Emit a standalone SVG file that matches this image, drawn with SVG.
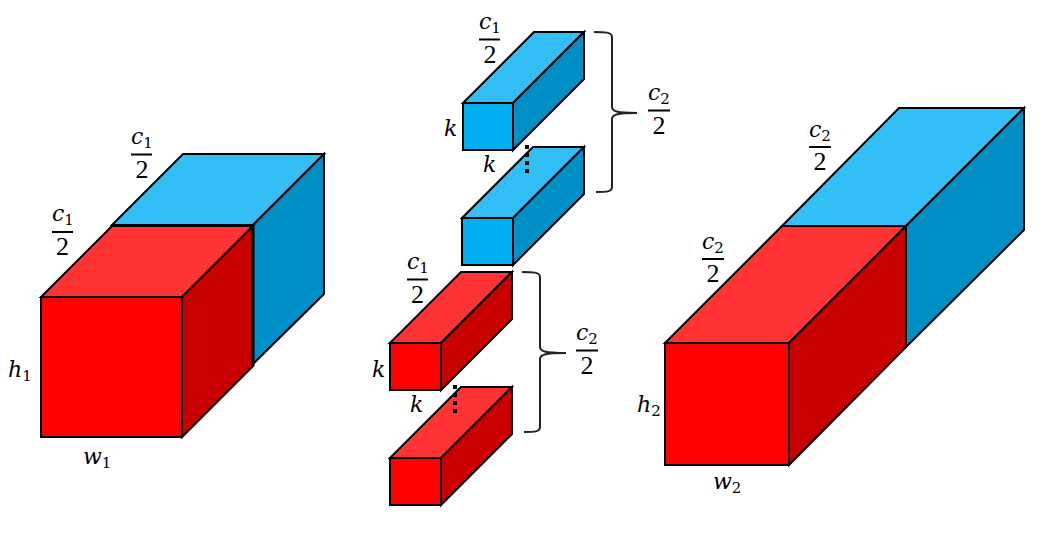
<svg xmlns="http://www.w3.org/2000/svg" width="1060" height="538" viewBox="0 0 1060 538">
<style>
.e{stroke:#000;stroke-width:2;stroke-linejoin:miter}
.rf{fill:#f00}.rt{fill:#f33}.rs{fill:#c80000}
.bf{fill:#00b0f0}.bt{fill:#33bff5}.bs{fill:#008fc4}
text{font-family:"DejaVu Serif","Liberation Serif",serif;fill:#000}
.v{font-size:22px;font-style:italic}
.s{font-size:15px;font-style:normal}
.n{font-size:26px;text-anchor:middle;font-family:"Liberation Serif",serif}
.bar{stroke:#000;stroke-width:2;fill:none}
.br{stroke:#222;stroke-width:2;fill:none}
.seam{stroke:#000;stroke-width:3;fill:none}
.d{fill:#000}
</style>
<g id="cube-left-blue">
<polygon class="e bt" points="112,225 183,154 324,154 253,225"/>
<polygon class="e bs" points="253,225 324,154 324,294 253,364"/>
</g>
<g id="cube-left-red">
<polygon class="e rt" points="41,297 112,226 253,226 182,297"/>
<polygon class="e rs" points="182,297 253,226 253,366 182,437"/>
<rect class="e rf" x="41" y="297" width="141" height="140"/>
<path class="seam" d="M111,225.500H253V366"/>
</g>
<g id="bar-blue-1">
<polygon class="e bt" points="463,103 534,32 584,32 513,103"/>
<polygon class="e bs" points="513,103 584,32 584,79 513,150"/>
<rect class="e bf" x="463" y="103" width="50" height="47"/>
</g>
<g id="bar-blue-2">
<polygon class="e bt" points="462,218 533,147 584,147 513,218"/>
<polygon class="e bs" points="513,218 584,147 584,194 513,265"/>
<rect class="e bf" x="462" y="218" width="51" height="47"/>
</g>
<g id="bar-red-1">
<polygon class="e rt" points="390,343 461,272 512,272 441,343"/>
<polygon class="e rs" points="441,343 512,272 512,319 441,390"/>
<rect class="e rf" x="390" y="343" width="51" height="47"/>
</g>
<g id="bar-red-2">
<polygon class="e rt" points="390,458 461,387 512,387 441,458"/>
<polygon class="e rs" points="441,458 512,387 512,434 441,505"/>
<rect class="e rf" x="390" y="458" width="51" height="47"/>
</g>
<g id="cube-right-blue">
<polygon class="e bt" points="782,226 899,108 1024,108 906,226"/>
<polygon class="e bs" points="906,226 1024,108 1024,230 906,347"/>
</g>
<g id="cube-right-red">
<polygon class="e rt" points="665,343 782,226 906,226 789,343"/>
<polygon class="e rs" points="789,343 906,226 906,347 789,465"/>
<rect class="e rf" x="665" y="343" width="124" height="122"/>
</g>
<g id="connectors">
<path class="br" d="M594,32 C604,32 612,32 612,37 V107 C612,111 616,113 637,113 C616,113 612,115 612,119 V187 C612,192 606,192 596,192"/>
<path class="br" d="M522,272 C532,272 540,272 540,277 V347 C540,351 544,353 566,353 C544,353 540,355 540,359 V427 C540,432 534,432 524,432"/>
<g class="d">
<rect x="525" y="145" width="4" height="4"/><rect x="525" y="153" width="4" height="4"/><rect x="525" y="161" width="4" height="4"/><rect x="525" y="169" width="4" height="4"/>
<rect x="453" y="385" width="4" height="4"/><rect x="453" y="393" width="4" height="4"/><rect x="453" y="401" width="4" height="4"/><rect x="453" y="409" width="4" height="4"/>
</g>
</g>
<g id="labels">
<text class="v" x="131" y="144">c<tspan class="s" dy="4">1</tspan></text><path class="bar" d="M131,154.500H152"/><text class="n" x="142" y="178">2</text>
<text class="v" x="52" y="221">c<tspan class="s" dy="4">1</tspan></text><path class="bar" d="M52,232H73"/><text class="n" x="62.500" y="255">2</text>
<text class="v" x="8" y="377">h<tspan class="s" dy="4">1</tspan></text>
<text class="v" x="83" y="464">w<tspan class="s" dy="4">1</tspan></text>
<text class="v" x="479" y="29">c<tspan class="s" dy="4">1</tspan></text><path class="bar" d="M479,39.500H500"/><text class="n" x="490" y="63">2</text>
<text class="v" x="648" y="100">c<tspan class="s" dy="4">2</tspan></text><path class="bar" d="M648,110.500H670"/><text class="n" x="659" y="134">2</text>
<text class="v" x="444" y="136">k</text>
<text class="v" x="483" y="172">k</text>
<text class="v" x="407" y="269">c<tspan class="s" dy="4">1</tspan></text><path class="bar" d="M407,279.500H428"/><text class="n" x="417.500" y="303">2</text>
<text class="v" x="576" y="340">c<tspan class="s" dy="4">2</tspan></text><path class="bar" d="M576,350.500H598"/><text class="n" x="587" y="374">2</text>
<text class="v" x="372" y="377">k</text>
<text class="v" x="410" y="412">k</text>
<text class="v" x="809" y="137">c<tspan class="s" dy="4">2</tspan></text><path class="bar" d="M809,147H831"/><text class="n" x="820" y="170">2</text>
<text class="v" x="702" y="249">c<tspan class="s" dy="4">2</tspan></text><path class="bar" d="M702,259H724"/><text class="n" x="713" y="282">2</text>
<text class="v" x="637" y="412">h<tspan class="s" dy="4">2</tspan></text>
<text class="v" x="713" y="489">w<tspan class="s" dy="4">2</tspan></text>
</g>
</svg>
